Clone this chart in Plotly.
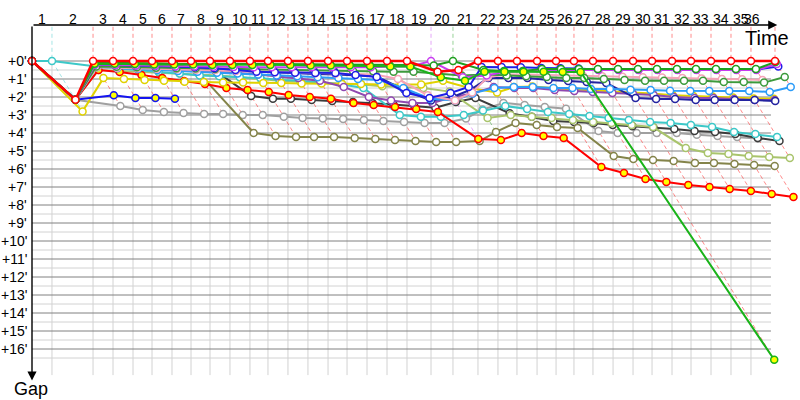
import plotly.graph_objects as go

# leader's elapsed time in minutes at the end of each lap (lap 0 = start)
LEADER_TIME = [0, 1.83, 5.59, 7.42, 9.25, 10.99, 12.82, 14.56, 16.30, 18.13, 19.96,
               21.61, 23.44, 25.27, 27.11, 28.85, 30.68, 32.51, 34.34, 36.54, 38.55,
               40.84, 42.67, 44.41, 46.25, 47.99, 49.63, 51.37, 53.21, 55.04, 56.78,
               58.61, 60.35, 62.18, 64.01, 65.84, 68.04]
LAPS = list(range(1, 37))
GAP_TICKS = list(range(0, 17))

# gap to the leader (minutes) after each completed lap, lap 0 first
gap_red = [0, 2.15] + [0] * 17 + [0.6, 0.5] + [0] * 16
gap_cyan = [0, 0, 0.3, 0.4, 0.5, 0.6, 0.7, 0.8, 0.85, 0.9, 0.95, 1.05, 1.1, 1.2, 1.3, 1.5,
            3.0, 3.1, 3.1, 3.0, 2.75, 2.5, 2.67, 2.83, 2.94, 3.06, 3.17, 3.28, 3.39, 3.44,
            3.56, 3.67, 3.94, 4.06, 4.22]
gap_violet = [0, 2.15, 0.2, 0.22, 0.25, 0.27, 0.3, 0.3, 0.32, 0.33, 0.35, 0.35, 0.35, 0.35,
              0.35, 0.35, 0.35, 0.3, 0.3, 0, 0.9, 0.8, 0.6, 0.55, 0.5, 0.5, 0.5, 0.5, 0.5,
              0.5, 0.5, 0.5, 0.5, 0.5, 0.5, 0.5, 0.17]
gap_green_yellow = [0, 2.15, 0.15, 0.15, 0.17, 0.2, 0.2, 0.2, 0.22, 0.22, 0.22, 0.22, 0.22,
                    0.25, 0.25, 0.25, 0.28, 0.3, 0.3, 0.9, 1.1, 0.6, 0.6, 0.6, 0.6, 0.61,
                    0.61, 16.6]
gap_green = [0, 2.15, 0.1, 0.1, 0.12, 0.12, 0.15, 0.15, 0.15, 0.17, 0.17, 0.17, 0.18, 0.18,
             0.2, 0.2, 0.2, 0.22, 0.22, 0.25, 0, 0.5, 0.55, 0.55, 0.45, 0.45, 0.45, 0.45,
             0.45, 0.45, 0.45, 0.45, 0.45, 0.45, 0.45, 0.45, 0.05]
gap_dark_green = [0, 2.15, 0.3, 0.32, 0.35, 0.37, 0.4, 0.42, 0.45, 0.45, 0.47, 0.5, 0.5, 0.52,
                  0.55, 0.55, 0.57, 0.6, 0.6, 0.7, 0.8, 0.75, 0.8, 0.85, 0.89, 0.94, 0.94,
                  1.0, 1.05, 1.1, 1.1, 1.1, 1.1, 1.17, 1.17, 1.2, 0.89]
gap_blue = [0, 2.15, 0.2, 0.22, 0.25, 0.28, 0.3, 0.35, 0.4, 0.5, 0.6, 0.62, 0.65, 0.67, 0.67,
            0.78, 0.89, 1.78, 2.06, 1.78, 1.44, 0.33, 0.33, 0.35, 0.39, 0.4, 0.42, 0.48,
            0.48, 0.48, 0.48, 0.48, 0.48, 0.48, 0.48, 0.48, 0.3]
gap_navy = [0, 2.15, 0.25, 0.3, 0.33, 0.37, 0.4, 0.45, 0.5, 0.55, 0.6, 0.65, 0.7, 0.72, 0.75,
            0.8, 0.85, 1.6, 2.2, 2.0, 1.6, 0.95, 0.95, 0.95, 1.05, 1.11, 1.17, 1.22, 2.06,
            2.11, 2.11, 2.17, 2.17, 2.17, 2.17, 2.22]
gap_purple = [0, 2.15, 0.3, 0.35, 0.4, 0.45, 0.5, 0.55, 0.6, 0.67, 0.75, 0.85, 0.95, 1.1,
              1.44, 2.0, 2.2, 2.33, 2.33, 2.0, 1.8, 1.44, 1.5, 1.5, 1.61, 1.67, 1.72, 1.78,
              1.83, 1.89, 2.0, 2.06, 2.06, 2.11, 2.17, 2.17]
gap_light_blue = [0, 2.15, 0.35, 0.4, 0.45, 0.5, 0.55, 0.6, 0.65, 0.7, 0.75, 0.8, 0.85, 0.9,
                  0.95, 1.0, 1.05, 1.5, 2.1, 2.2, 1.8, 1.5, 1.45, 1.45, 1.5, 1.5, 1.55, 1.55,
                  1.6, 1.61, 1.65, 1.67, 1.67, 1.67, 1.67, 1.72, 1.44]
gap_yellow = [0, 2.8, 0.95, 1.0, 1.06, 1.1, 1.15, 1.17, 1.2, 1.2, 1.22, 1.22, 1.25, 1.25,
              1.28, 1.28, 1.3, 1.3, 1.3, 1.1, 1.5, 1.75, 1.45, 1.42, 1.52, 1.58, 1.63, 1.7,
              1.75, 1.8, 1.9, 1.95, 1.97, 2.03, 2.08, 2.1]
gap_pink = [0, 2.15, 0.35, 0.38, 0.4, 0.43, 0.45, 0.48, 0.5, 0.55, 0.6, 0.62, 0.65, 0.68, 0.7,
            0.72, 0.75, 1.0, 1.9, 2.2, 1.75, 0.9, 0.75, 0.75, 0.78, 0.8, 0.82, 0.85, 0.87,
            0.9, 0.92, 0.95, 0.97, 1.0, 1.02, 1.05]
gap_yellow_green = [0, 2.15, 0.5, 0.55, 0.6, 0.65, 0.7, 0.75, 0.8, 0.9, 1.0, 1.1, 1.15, 1.2,
                    1.25, 1.3, 1.4, 1.45, 1.5, 1.7, 3.17, 3.0, 3.1, 3.17, 3.28, 3.39, 3.44,
                    3.55, 3.67, 4.83, 5.11, 5.17, 5.28, 5.33, 5.39]
gap_olive = [0, 2.15, 0.3, 0.35, 0.4, 0.45, 0.5, 0.55, 4.0, 4.17, 4.22, 4.22, 4.22, 4.28, 4.33,
             4.39, 4.44, 4.5, 4.5, 4.45, 3.94, 3.44, 3.55, 3.67, 3.72, 5.28, 5.44, 5.5, 5.55,
             5.67, 5.67, 5.72, 5.78, 5.83]
gap_red_yellow = [0, 2.15, 0.5, 0.61, 0.78, 0.94, 1.11, 1.28, 1.5, 1.61, 1.72, 1.89, 2.0, 2.1,
                  2.33, 2.44, 2.56, 2.67, 2.83, 4.33, 4.39, 4.0, 4.17, 4.28, 5.89, 6.22, 6.55,
                  6.72, 6.89, 7.0, 7.11, 7.22, 7.39, 7.55]
gap_black = [0, 2.15, 0.25, 0.3, 0.35, 0.4, 0.45, 0.5, 0.6, 1.94, 2.1, 2.1, 2.17, 2.22, 2.28,
             2.35, 2.42, 2.5, 2.6, 2.28, 2.06, 2.9, 3.1, 3.33, 3.39, 3.45, 3.55, 3.62, 3.7,
             3.78, 3.89, 3.94, 4.06, 4.28, 4.44]
gap_gray = [0, 2.15, 2.5, 2.72, 2.83, 2.89, 2.94, 2.94, 3.0, 3.0, 3.1, 3.17, 3.19, 3.22, 3.28,
            3.33, 3.39, 3.44, 3.44, 3.2, 2.7, 2.33, 2.44, 2.55, 2.65, 3.89, 4.0, 4.0, 4.0,
            4.0, 4.1, 4.17, 4.22, 4.3]
gap_blue_yellow = [0, 2.15, 1.9, 2.05, 2.05, 2.1]

# (gaps, line colour, marker fill), bottom of the drawing order first
drivers = [
    (gap_gray, "#a0a0a0", "white"),
    (gap_black, "#3c3c3c", "white"),
    (gap_olive, "#84844a", "white"),
    (gap_yellow_green, "#a9c46c", "white"),
    (gap_cyan, "#3cc8c8", "white"),
    (gap_red_yellow, "#ff0000", "yellow"),
    (gap_yellow, "#e0d200", "white"),
    (gap_purple, "#9048b0", "white"),
    (gap_navy, "#2323a0", "white"),
    (gap_light_blue, "#2c9cf8", "white"),
    (gap_pink, "#f5a3b8", "white"),
    (gap_dark_green, "#3c9a3c", "white"),
    (gap_blue, "#1e1ee6", "white"),
    (gap_blue_yellow, "#1414f0", "yellow"),
    (gap_violet, "#c83cf0", "white"),
    (gap_green, "#1e9e1e", "white"),
    (gap_green_yellow, "#19b319", "yellow"),
    (gap_red, "#ff0000", "white"),
]

# pixel scale of the original picture
PX_X, PX_Y = 10.92, 18.0
X0, Y0 = 32, 61
x_range = [-X0 / PX_X, (800 - X0) / PX_X]
y_range = [(400 - Y0) / PX_Y, -Y0 / PX_Y]
grid_end = 67.67
grid_bottom = 17.45
axis_top = -2.0

fig = go.Figure()

# light grid: half minutes and lap ends
xs, ys = [], []
for k in range(1, 34, 2):
    xs += [0, grid_end, None]
    ys += [k / 2, k / 2, None]
for t in LEADER_TIME[1:-1]:
    xs += [t, t, None]
    ys += [0, grid_bottom, None]
fig.add_trace(go.Scatter(x=xs, y=ys, mode="lines", line=dict(color="#d2d2d2", width=1),
                         hoverinfo="skip"))

xs, ys = [], []
for g in GAP_TICKS:
    xs += [0, grid_end, None]
    ys += [g, g, None]
fig.add_trace(go.Scatter(x=xs, y=ys, mode="lines", line=dict(color="#808080", width=1),
                         hoverinfo="skip"))

# leader lines: vertical to the leader, then diagonal down to the last car
for lap in LAPS:
    t = LEADER_TIME[lap]
    on_lap = [(d[0][lap], d[1]) for d in drivers if len(d[0]) > lap]
    lead_color = min(on_lap, key=lambda p: p[0])[1]
    last = max(p[0] for p in on_lap)
    fig.add_trace(go.Scatter(x=[t, t, t + last], y=[axis_top + 0.1, 0, last], mode="lines",
                             line=dict(color=lead_color, width=1, dash="4px,3px"),
                             opacity=0.45, hoverinfo="skip"))

for gaps, color, fill in drivers:
    x = [LEADER_TIME[i] + g for i, g in enumerate(gaps)]
    lw = 2.5 if color == "#ff0000" and fill == "white" else 2
    fig.add_trace(go.Scatter(x=x, y=gaps, mode="lines+markers",
                             line=dict(color=color, width=lw),
                             marker=dict(size=7, color=fill, line=dict(color=color, width=1.5)),
                             hoverinfo="skip"))

font = "Liberation Sans"
ann = []
for lap in LAPS:
    if lap < 36:
        lx = (LEADER_TIME[lap - 1] + LEADER_TIME[lap]) / 2
    else:
        lx = LEADER_TIME[lap - 1] + 0.1
    ann.append(dict(x=lx, y=-2.33, text=str(lap), showarrow=False, xanchor="center",
                    yanchor="middle", font=dict(size=14, color="black", family=font)))
for g in GAP_TICKS:
    ann.append(dict(x=-0.27, y=g, text="+%d'" % g, showarrow=False, xanchor="right",
                    yanchor="middle", font=dict(size=14, color="black", family=font)))

# axis arrows
ann.append(dict(x=68.25, y=axis_top, ax=0, ay=axis_top, axref="x", ayref="y", text="",
                showarrow=True, arrowhead=2, arrowsize=1.3, arrowwidth=1.4, arrowcolor="black",
                standoff=0, startstandoff=0))
ann.append(dict(x=0, y=17.75, ax=0, ay=axis_top, axref="x", ayref="y", text="",
                showarrow=True, arrowhead=2, arrowsize=1.3, arrowwidth=1.4, arrowcolor="black",
                standoff=0, startstandoff=0))
ann.append(dict(x=65.1, y=-1.28, text="Time", showarrow=False, xanchor="left",
                yanchor="middle", font=dict(size=20, color="black", family=font)))
ann.append(dict(x=-1.85, y=18.2, text="Gap", showarrow=False, xanchor="left",
                yanchor="middle", font=dict(size=18, color="black", family=font)))

fig.update_layout(
    width=800, height=400,
    margin=dict(l=0, r=0, t=0, b=0),
    paper_bgcolor="white", plot_bgcolor="white",
    showlegend=False,
    xaxis=dict(range=x_range, visible=False, fixedrange=True),
    yaxis=dict(range=y_range, visible=False, fixedrange=True),
    annotations=ann,
)

fig.write_html("out.html", config={"displayModeBar": False},
               post_script="document.body.style.margin='0';")
